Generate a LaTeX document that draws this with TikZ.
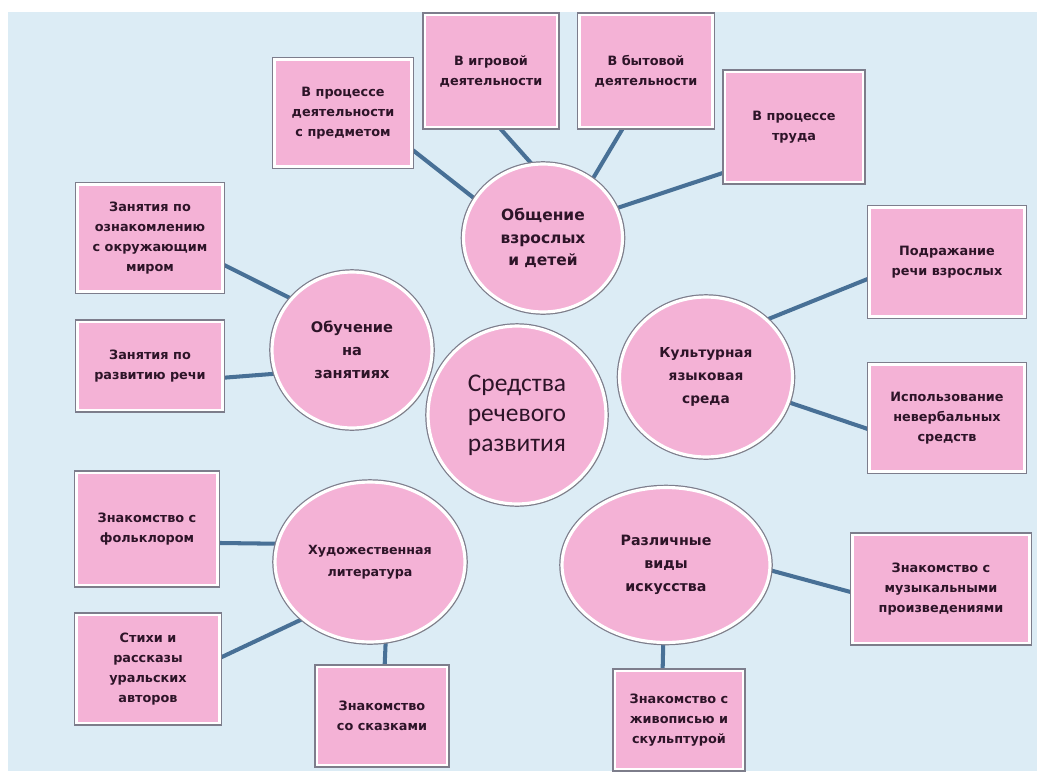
\documentclass[tikz,border=0pt]{standalone}
\usepackage{fontspec}
\setmainfont{DejaVu Sans}
\newfontfamily\calfont{Carlito}
\usepackage{tikz}
\usetikzlibrary{shapes.geometric,shadows,backgrounds}
\definecolor{bgblue}{RGB}{220,236,245}
\definecolor{pinkfill}{RGB}{244,178,214}
\definecolor{linkblue}{RGB}{72,112,150}
\definecolor{txt}{RGB}{45,20,40}
\definecolor{rim}{RGB}{125,125,140}

\tikzset{
  card/.style={rectangle, fill=pinkfill, draw=white, line width=1.6pt,
    preaction={draw=rim, line width=3pt},
    drop shadow={shadow xshift=1pt, shadow yshift=-1pt, opacity=0.3},
    inner sep=1pt, align=center, text=txt,
    font=\fontsize{7.3}{11.4}\selectfont\bfseries},
  hub/.style={ellipse, fill=pinkfill, draw=white, line width=1.8pt,
    preaction={draw=rim, line width=3.2pt},
    drop shadow={shadow xshift=1.2pt, shadow yshift=-1.2pt, opacity=0.3},
    inner sep=0pt, align=center, text=txt,
    font=\fontsize{8.3}{13}\selectfont\bfseries},
  link/.style={draw=linkblue, line width=2.3pt}
}

\begin{document}
\begin{tikzpicture}[x=0.02cm,y=-0.02cm]
    \useasboundingbox (0,0) rectangle (1037,771);

    % circles
    \node[hub, minimum width=3.56cm, minimum height=3.56cm,
          font=\calfont\fontsize{14.5}{17}\selectfont] (core) at (517,415) {Средства\\речевого\\развития};
    \node[hub, minimum width=3.18cm, minimum height=2.96cm, font=\fontsize{8.8}{13}\selectfont\bfseries] (talk) at (543,238) {Общение\\взрослых\\и детей};
    \node[hub, minimum width=3.2cm, minimum height=3.12cm] (lesson) at (352,350) {Обучение\\на\\занятиях};
    \node[hub, minimum width=3.46cm, minimum height=3.2cm, font=\fontsize{7.8}{13}\selectfont\bfseries] (milieu) at (706,377) {Культурная\\языковая\\среда};
    \node[hub, minimum width=3.8cm, minimum height=3.2cm, font=\fontsize{7.2}{12.4}\selectfont\bfseries] (lit) at (370,562) {Художественная\\литература};
    \node[hub, minimum width=4.16cm, minimum height=3.1cm, font=\fontsize{8.1}{13}\selectfont\bfseries] (arts) at (666,565) {Различные\\виды\\искусства};

    % boxes
    \node[card, minimum width=2.74cm, minimum height=2.14cm] (objact) at (343,113) {В процессе\\деятельности\\с предметом};
    \node[card, minimum width=2.64cm, minimum height=2.24cm] (play) at (491,71) {В игровой\\деятельности};
    \node[card, minimum width=2.66cm, minimum height=2.24cm] (household) at (646,71) {В бытовой\\деятельности};
    \node[card, minimum width=2.76cm, minimum height=2.2cm] (labour) at (794,127) {В процессе\\труда};

    \node[card, minimum width=2.9cm, minimum height=2.14cm] (world) at (150,238) {Занятия по\\ознакомлению\\с окружающим\\миром};
    \node[card, minimum width=2.9cm, minimum height=1.76cm] (speech) at (150,366) {Занятия по\\развитию речи};

    \node[card, minimum width=3.1cm, minimum height=2.18cm] (imitate) at (947,262) {Подражание\\речи взрослых};
    \node[card, minimum width=3.1cm, minimum height=2.14cm] (nonverbal) at (947,418) {Использование\\невербальных\\средств};

    \node[card, minimum width=2.82cm, minimum height=2.24cm] (folk) at (147,529) {Знакомство с\\фольклором};
    \node[card, minimum width=2.86cm, minimum height=2.16cm] (ural) at (148,669) {Стихи и\\рассказы\\уральских\\авторов};
    \node[card, minimum width=2.6cm, minimum height=1.96cm] (tales) at (382,716) {Знакомство\\со сказками};

    \node[card, minimum width=3.54cm, minimum height=2.16cm] (music) at (941,589) {Знакомство с\\музыкальными\\произведениями};
    \node[card, minimum width=2.56cm, minimum height=1.96cm] (paint) at (679,720) {Знакомство с\\живописью и\\скульптурой};

    \begin{scope}[on background layer]
        \fill[white] (0,0) rectangle (1037,771);
        \fill[bgblue] (8,12) rectangle (1037,771);

        \draw[link] (objact.-28) -- (talk.150);
        \draw[link] (play.-81) -- (talk.99);
        \draw[link] (household.-112) -- (talk.50);
        \draw[link] (labour.213) -- (talk.22);

        \draw[link] (world.-20) -- (lesson.140);
        \draw[link] (speech.-9) -- (lesson.197);

        \draw[link] (imitate.192) -- (milieu.43);
        \draw[link] (nonverbal.188) -- (milieu.-17);

        \draw[link] (folk.-11) -- (lit.169);
        \draw[link] (ural.9) -- (lit.220);
        \draw[link] (tales.87) -- (lit.-79);

        \draw[link] (music.182) -- (arts.-3);
        \draw[link] (paint.108) -- (arts.-92);
    \end{scope}
\end{tikzpicture}
\end{document}
